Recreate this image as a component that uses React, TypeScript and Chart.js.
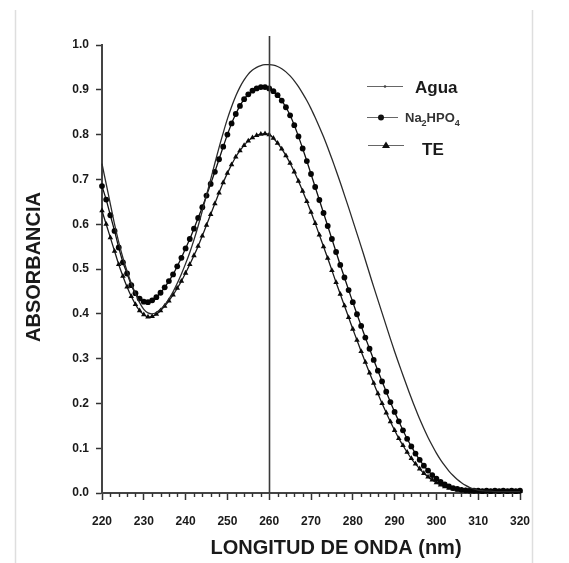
import React, { useEffect, useRef } from "react";
import { Chart, registerables } from "chart.js";

Chart.register(...registerables);

const WAVELENGTHS = [
  220, 221, 222, 223, 224, 225, 226, 227, 228, 229,
  230, 231, 232, 233, 234, 235, 236, 237, 238, 239,
  240, 241, 242, 243, 244, 245, 246, 247, 248, 249,
  250, 251, 252, 253, 254, 255, 256, 257, 258, 259,
  260, 261, 262, 263, 264, 265, 266, 267, 268, 269,
  270, 271, 272, 273, 274, 275, 276, 277, 278, 279,
  280, 281, 282, 283, 284, 285, 286, 287, 288, 289,
  290, 291, 292, 293, 294, 295, 296, 297, 298, 299,
  300, 301, 302, 303, 304, 305, 306, 307, 308, 309,
  310, 311, 312, 313, 314, 315, 316, 317, 318, 319,
  320,
];

const AGUA = [
  0.735, 0.69, 0.645, 0.6, 0.56, 0.525, 0.495, 0.468, 0.445, 0.425,
  0.41, 0.402, 0.4, 0.403, 0.41, 0.42, 0.433, 0.449, 0.468, 0.489,
  0.512, 0.537, 0.565, 0.596, 0.63, 0.665, 0.7, 0.736, 0.771, 0.804,
  0.835, 0.862, 0.886, 0.906, 0.922, 0.935, 0.944, 0.95, 0.954, 0.956,
  0.956, 0.955, 0.952, 0.947, 0.94, 0.931, 0.92, 0.907, 0.892, 0.876,
  0.858, 0.838, 0.817, 0.795, 0.771, 0.746, 0.72, 0.693, 0.665, 0.637,
  0.608, 0.579, 0.55, 0.52, 0.49, 0.46, 0.431, 0.402, 0.373, 0.344,
  0.316, 0.289, 0.263, 0.237, 0.212, 0.188, 0.165, 0.144, 0.124, 0.106,
  0.089, 0.074, 0.061, 0.049, 0.039, 0.03, 0.023, 0.017, 0.012, 0.009,
  0.006, 0.005, 0.004, 0.004, 0.003, 0.003, 0.003, 0.003, 0.003, 0.003,
  0.003,
];

const NA2HPO4 = [
  0.685, 0.655, 0.62, 0.585, 0.548, 0.515, 0.49, 0.464, 0.446, 0.434,
  0.427, 0.426, 0.43, 0.437, 0.447, 0.459, 0.473, 0.488, 0.506, 0.525,
  0.546, 0.567, 0.59, 0.614, 0.638, 0.664, 0.69, 0.717, 0.745, 0.773,
  0.8, 0.825, 0.846, 0.864, 0.879, 0.89, 0.898, 0.903, 0.906, 0.906,
  0.903, 0.897, 0.888, 0.876, 0.861, 0.843, 0.821, 0.796, 0.769, 0.741,
  0.712, 0.683, 0.654, 0.625, 0.596, 0.567, 0.538, 0.509, 0.481, 0.453,
  0.426, 0.399, 0.373, 0.347, 0.322, 0.297, 0.273, 0.249, 0.226, 0.203,
  0.181, 0.16, 0.14, 0.121, 0.104, 0.088, 0.074, 0.061, 0.05, 0.04,
  0.032, 0.025, 0.019, 0.015, 0.011, 0.009, 0.007, 0.006, 0.005, 0.005,
  0.005, 0.004, 0.005, 0.004, 0.005, 0.004, 0.005, 0.004, 0.005, 0.004,
  0.005,
];

const TE = [
  0.63, 0.6, 0.57, 0.54, 0.51, 0.484, 0.46, 0.439, 0.421, 0.407,
  0.398, 0.393, 0.394, 0.399, 0.407, 0.417, 0.429, 0.442, 0.457, 0.473,
  0.491, 0.51, 0.53, 0.551, 0.574, 0.598, 0.622, 0.646, 0.67, 0.693,
  0.714, 0.733, 0.75, 0.764, 0.776, 0.786, 0.793, 0.798, 0.801, 0.802,
  0.8, 0.792, 0.781, 0.768, 0.753, 0.736, 0.717, 0.696, 0.674, 0.651,
  0.627, 0.602, 0.576, 0.55, 0.524, 0.497, 0.47, 0.444, 0.418, 0.392,
  0.366, 0.341, 0.316, 0.292, 0.268, 0.245, 0.222, 0.2, 0.179, 0.159,
  0.14, 0.122, 0.106, 0.091, 0.077, 0.065, 0.054, 0.044, 0.036, 0.029,
  0.023, 0.018, 0.014, 0.011, 0.009, 0.007, 0.006, 0.005, 0.004, 0.004,
  0.004, 0.003, 0.004, 0.003, 0.004, 0.003, 0.004, 0.003, 0.004, 0.003,
  0.004,
];

const X_MIN = 220;
const X_MAX = 320;
const X_STEP = 10;
const X_MINOR_STEP = 2;
const Y_MIN = 0;
const Y_MAX = 1;
const Y_STEP = 0.1;
const REF_WAVELENGTH = 260;

const X_TITLE = "LONGITUD DE ONDA (nm)";
const Y_TITLE = "ABSORBANCIA";
const LEGEND_AGUA = "Agua";
const LEGEND_TE = "TE";

const FONT = '"Liberation Sans", Arial, Helvetica, sans-serif';
const INK = "#1a1a1a";

const toPoints = (ys: number[]) => WAVELENGTHS.map((x, i) => ({ x, y: ys[i] }));

const extras = {
  id: "extras",
  beforeDraw(chart: any) {
    const { ctx, width, height } = chart;
    ctx.save();
    ctx.fillStyle = "#ffffff";
    ctx.fillRect(0, 0, width, height);
    ctx.restore();
  },
  afterDatasetsDraw(chart: any) {
    const { ctx, chartArea, scales } = chart;
    const x = scales.x;
    ctx.save();
    const xv = Math.round(x.getPixelForValue(REF_WAVELENGTH)) + 0.5;
    ctx.strokeStyle = "#3a3a3a";
    ctx.lineWidth = 1.6;
    ctx.beginPath();
    ctx.moveTo(xv, chartArea.top - 9);
    ctx.lineTo(xv, chartArea.bottom);
    ctx.stroke();
    ctx.restore();
  },
  afterDraw(chart: any) {
    const { ctx, chartArea, scales } = chart;
    const x = scales.x;
    ctx.save();

    // frame lines of the figure
    ctx.strokeStyle = "#dedede";
    ctx.lineWidth = 1.5;
    ctx.beginPath();
    ctx.moveTo(15.5, 10);
    ctx.lineTo(15.5, 563);
    ctx.moveTo(532.5, 10);
    ctx.lineTo(532.5, 563);
    ctx.stroke();

    // minor ticks
    ctx.strokeStyle = "#333";
    ctx.lineWidth = 1.4;
    ctx.beginPath();
    for (let v = X_MIN; v <= X_MAX; v += X_MINOR_STEP) {
      if (v % X_STEP === 0) continue;
      const px = Math.round(x.getPixelForValue(v)) + 0.5;
      ctx.moveTo(px, chartArea.bottom);
      ctx.lineTo(px, chartArea.bottom + 4);
    }
    ctx.stroke();

    // axis titles
    ctx.fillStyle = INK;
    ctx.font = `bold 20px ${FONT}`;
    ctx.textAlign = "center";
    ctx.textBaseline = "middle";
    ctx.fillText(X_TITLE, 336, 548);
    ctx.save();
    ctx.translate(34, 267);
    ctx.rotate(-Math.PI / 2);
    ctx.fillText(Y_TITLE, 0, 0);
    ctx.restore();

    // legend
    const lx0 = 367;
    const lx1 = 403;
    ctx.strokeStyle = "#666";
    ctx.lineWidth = 1;
    ctx.beginPath();
    ctx.moveTo(lx0, 86.5);
    ctx.lineTo(lx1, 86.5);
    ctx.stroke();
    ctx.fillStyle = "#444";
    ctx.beginPath();
    ctx.arc(385, 86.5, 1.3, 0, Math.PI * 2);
    ctx.fill();

    ctx.beginPath();
    ctx.moveTo(lx0, 117.5);
    ctx.lineTo(lx1 - 5, 117.5);
    ctx.stroke();
    ctx.fillStyle = "#111";
    ctx.beginPath();
    ctx.arc(381, 117.5, 3, 0, Math.PI * 2);
    ctx.fill();

    ctx.beginPath();
    ctx.moveTo(lx0 + 1, 145.5);
    ctx.lineTo(lx1 + 1, 145.5);
    ctx.stroke();
    ctx.fillStyle = "#111";
    ctx.beginPath();
    ctx.moveTo(386, 141.5);
    ctx.lineTo(390, 148);
    ctx.lineTo(382, 148);
    ctx.closePath();
    ctx.fill();

    ctx.fillStyle = INK;
    ctx.textAlign = "left";
    ctx.textBaseline = "alphabetic";
    ctx.font = `bold 17px ${FONT}`;
    ctx.fillText(LEGEND_AGUA, 415, 93);
    ctx.fillText(LEGEND_TE, 422, 155);

    const parts: [string, boolean][] = [
      ["Na", false],
      ["2", true],
      ["HPO", false],
      ["4", true],
    ];
    let tx = 405;
    const base = 122;
    for (const [t, sub] of parts) {
      ctx.font = sub ? `bold 9px ${FONT}` : `bold 13px ${FONT}`;
      ctx.fillStyle = "#333";
      ctx.fillText(t, tx, sub ? base + 4 : base);
      tx += ctx.measureText(t).width;
    }

    ctx.restore();
  },
};

export default function App() {
  const canvasRef = useRef<HTMLCanvasElement | null>(null);

  useEffect(() => {
    if (!canvasRef.current) return;
    const tickFont = { family: FONT, size: 12, weight: "bold" as const };
    const chart = new Chart(canvasRef.current, {
      type: "line",
      data: {
        datasets: [
          {
            label: "Agua",
            data: toPoints(AGUA),
            borderColor: "#2a2a2a",
            borderWidth: 1.3,
            pointRadius: 0,
            tension: 0.3,
            clip: false as any,
          },
          {
            label: "Na2HPO4",
            data: toPoints(NA2HPO4),
            borderColor: "#111",
            borderWidth: 1.3,
            pointRadius: 2.9,
            pointBackgroundColor: "#050505",
            pointBorderColor: "#050505",
            pointBorderWidth: 0,
            pointStyle: "circle",
            tension: 0.3,
            clip: false as any,
          },
          {
            label: "TE",
            data: toPoints(TE),
            borderColor: "#1a1a1a",
            borderWidth: 1.3,
            pointRadius: 3.2,
            pointBackgroundColor: "#0a0a0a",
            pointBorderColor: "#0a0a0a",
            pointBorderWidth: 0,
            pointStyle: "triangle",
            tension: 0.3,
            clip: false as any,
          },
        ],
      },
      options: {
        responsive: false,
        animation: false,
        events: [],
        layout: { padding: { left: 0, top: 45, right: 49, bottom: 0 } },
        plugins: {
          legend: { display: false },
          tooltip: { enabled: false },
          title: { display: false },
        },
        scales: {
          x: {
            type: "linear",
            min: X_MIN,
            max: X_MAX,
            afterFit: (s: any) => {
              s.height = 70;
            },
            ticks: {
              stepSize: X_STEP,
              autoSkip: false,
              maxRotation: 0,
              padding: 14,
              color: INK,
              font: tickFont,
              callback: (v: any) => String(Math.round(Number(v))),
            },
            grid: {
              display: true,
              drawOnChartArea: false,
              drawTicks: true,
              tickLength: 7,
              tickColor: "#333",
              tickWidth: 1.5,
            },
            border: { display: true, color: "#444", width: 2 },
          },
          y: {
            type: "linear",
            min: Y_MIN,
            max: Y_MAX,
            afterFit: (s: any) => {
              s.width = 102;
            },
            ticks: {
              stepSize: Y_STEP,
              autoSkip: false,
              padding: 7,
              color: INK,
              font: tickFont,
              callback: (v: any) => Number(v).toFixed(1),
            },
            grid: {
              display: true,
              drawOnChartArea: false,
              drawTicks: true,
              tickLength: 6,
              tickColor: "#333",
              tickWidth: 1.5,
            },
            border: { display: true, color: "#444", width: 2 },
          },
        },
      },
      plugins: [extras],
    });
    return () => chart.destroy();
  }, []);

  return (
    <div style={{ position: "absolute", left: 0, top: 0, width: 569, height: 563, background: "#fff" }}>
      <canvas ref={canvasRef} width={569} height={563} style={{ display: "block" }} />
    </div>
  );
}
